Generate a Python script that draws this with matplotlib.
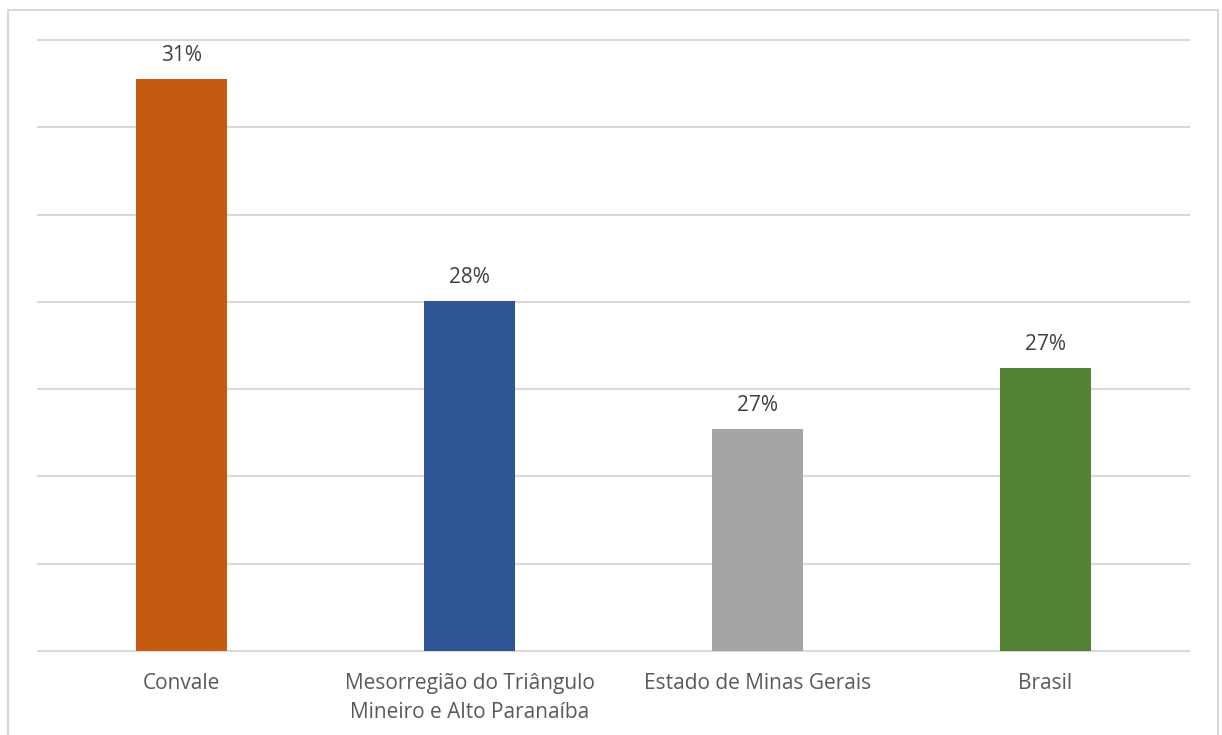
import matplotlib.pyplot as plt
from matplotlib.patches import Rectangle

categories = ["Convale", "Mesorregião do Triângulo\nMineiro e Alto Paranaíba",
              "Estado de Minas Gerais", "Brasil"]
values = [0.3055, 0.2801, 0.2654, 0.2724]
labels = ["31%", "28%", "27%", "27%"]
colors = ["#C55A11", "#2F5597", "#A5A5A5", "#548235"]

plt.rcParams['font.family'] = ['Open Sans', 'DejaVu Sans']

fig = plt.figure(figsize=(12.22, 7.35), dpi=100)
ax = fig.add_axes([38/1222, 1 - 651/735, (1189 - 38)/1222, (651 - 40)/735])

x = range(len(categories))
bars = ax.bar(x, values, width=0.316, color=colors, zorder=3)
ax.set_ylim(0.24, 0.31)
ax.set_xlim(-0.5, len(categories) - 0.5)

for b, lab in zip(bars, labels):
    ax.annotate(lab, (b.get_x() + b.get_width()/2, b.get_height()),
                xytext=(0, 17), textcoords='offset points',
                ha='center', va='center', fontsize=15, color='#404040')

ax.set_yticks([0.24 + 0.01*i for i in range(8)])
ax.set_yticklabels([])
ax.tick_params(axis='y', length=0)
ax.grid(axis='y', color='#D9D9D9', linewidth=1.5, zorder=0)
for gl in ax.get_ygridlines():
    gl.set_clip_on(False)
ax.set_xticks(list(x))
ax.set_xticklabels(categories, fontsize=15, color='#595959', linespacing=1.5)
ax.tick_params(axis='x', length=0, pad=16)
for s in ax.spines.values():
    s.set_visible(False)

fig.patches.append(Rectangle((8/1222, -0.05), 1210/1222, 1.05 - 10/735,
                             transform=fig.transFigure, fill=False,
                             edgecolor='#D9D9D9', linewidth=1.5))

fig.savefig("out.png", dpi=100)
